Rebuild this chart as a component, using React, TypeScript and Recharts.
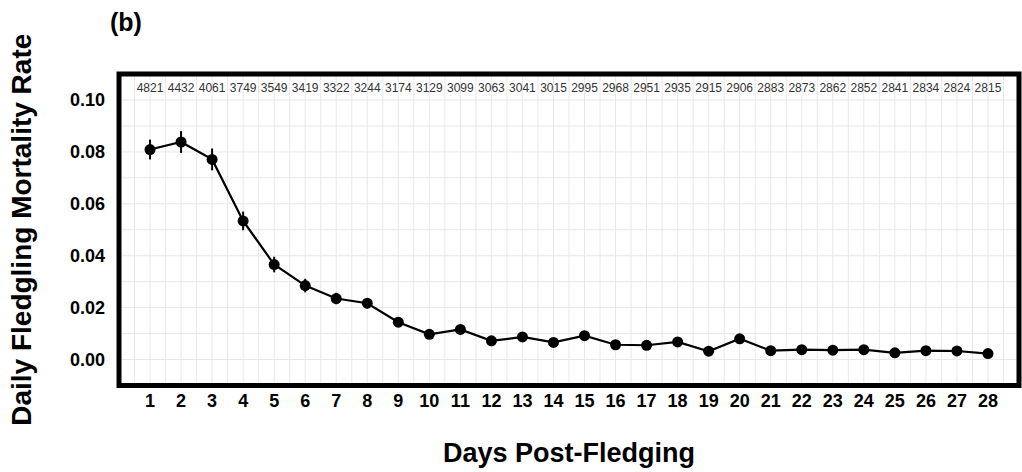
import React from 'react';
import { LineChart, Line, XAxis, YAxis, CartesianGrid, ErrorBar, ReferenceArea } from 'recharts';

const days = [1, 2, 3, 4, 5, 6, 7, 8, 9, 10, 11, 12, 13, 14, 15, 16, 17, 18, 19, 20, 21, 22, 23, 24, 25, 26, 27, 28];
const mortality = [
  0.0809, 0.0838, 0.0771, 0.0534, 0.0366, 0.0285, 0.0235, 0.0217, 0.0144, 0.0097,
  0.0116, 0.0072, 0.0087, 0.0066, 0.0092, 0.0057, 0.0055, 0.0068, 0.0032, 0.008,
  0.0034, 0.0038, 0.0036, 0.0038, 0.0026, 0.0034, 0.0033, 0.0023,
];
const errors = [
  0.0038, 0.0042, 0.0042, 0.0036, 0.003, 0.0026, 0.0022, 0.002, 0.0017, 0.0013,
  0.0015, 0.0012, 0.0013, 0.0012, 0.0014, 0.0011, 0.0011, 0.0012, 0.0009, 0.0013,
  0.0009, 0.001, 0.0009, 0.001, 0.0008, 0.0009, 0.0009, 0.0008,
];
const sampleSizes = [
  4821, 4432, 4061, 3749, 3549, 3419, 3322, 3244, 3174, 3129, 3099, 3063, 3041, 3015,
  2995, 2968, 2951, 2935, 2915, 2906, 2883, 2873, 2862, 2852, 2841, 2834, 2824, 2815,
];
const yTicks = [0, 0.02, 0.04, 0.06, 0.08, 0.1];
const xDomain = [0, 29];
const yDomain = [-0.01, 0.11];

const FONT = '"Liberation Sans", Arial, sans-serif';

const data = days.map((d, i) => ({ day: d, rate: mortality[i], err: errors[i] }));

// grid: majors plus the minor lines halfway between
const vGrid = days.flatMap((d) => [d - 0.5, d]).concat([28.5]);
const hGrid = [0, 0.01, 0.02, 0.03, 0.04, 0.05, 0.06, 0.07, 0.08, 0.09, 0.1];

const App: React.FC = () => {
  return (
    <div style={{ position: 'absolute', left: 0, top: 0, width: 1022, height: 472, background: '#fff', fontFamily: FONT }}>
      <div style={{ position: 'absolute', left: 110, top: 10, fontSize: 25, fontWeight: 'bold', lineHeight: 1 }}>(b)</div>
      <LineChart width={1022} height={472} data={data} margin={{ top: 74, right: 3, bottom: 0, left: 0 }}>
        <CartesianGrid stroke="#e8e8e8" strokeWidth={1} verticalValues={vGrid} horizontalValues={hGrid} />
        <XAxis
          dataKey="day"
          type="number"
          domain={xDomain}
          ticks={days}
          interval={0}
          axisLine={false}
          tickLine={false}
          tickSize={0}
          tickMargin={9}
          height={86.5}
          tick={{ fill: '#000', fontSize: 18, fontWeight: 'bold', fontFamily: FONT }}
          label={{ value: 'Days Post-Fledging', position: 'insideBottom', offset: 10, fill: '#000', fontSize: 27, fontWeight: 'bold', fontFamily: FONT }}
        />
        {/* sample sizes printed along the inside top of the panel */}
        <XAxis
          xAxisId="top"
          dataKey="day"
          orientation="top"
          mirror
          type="number"
          domain={xDomain}
          ticks={days}
          interval={0}
          height={1}
          axisLine={false}
          tickLine={false}
          tickSize={0}
          tickMargin={9}
          tickFormatter={(v: number) => String(sampleSizes[v - 1])}
          tick={{ fill: '#333', fontSize: 12, fontFamily: FONT }}
        />
        <YAxis
          type="number"
          domain={yDomain}
          ticks={yTicks}
          interval={0}
          width={119}
          axisLine={false}
          tickLine={false}
          tickSize={0}
          tickMargin={14}
          tickFormatter={(v: number) => v.toFixed(2)}
          tick={{ fill: '#000', fontSize: 18, fontWeight: 'bold', fontFamily: FONT }}
          label={{
            value: 'Daily Fledgling Mortality Rate',
            angle: -90,
            position: 'insideLeft',
            offset: 21,
            fill: '#000',
            fontSize: 28,
            fontWeight: 'bold',
            fontFamily: FONT,
            style: { textAnchor: 'middle' },
          }}
        />
        <Line
          type="linear"
          dataKey="rate"
          stroke="#000"
          strokeWidth={2.2}
          dot={{ r: 5.5, fill: '#000', stroke: '#000', strokeWidth: 0 }}
          activeDot={false}
          isAnimationActive={false}
        >
          <ErrorBar dataKey="err" width={0} stroke="#000" strokeWidth={2} direction="y" />
        </Line>
        <ReferenceArea
          x1={xDomain[0]}
          x2={xDomain[1]}
          y1={yDomain[0]}
          y2={yDomain[1]}
          fill="none"
          stroke="#000"
          strokeWidth={5}
          ifOverflow="visible"
        />
      </LineChart>
    </div>
  );
};

export default App;
